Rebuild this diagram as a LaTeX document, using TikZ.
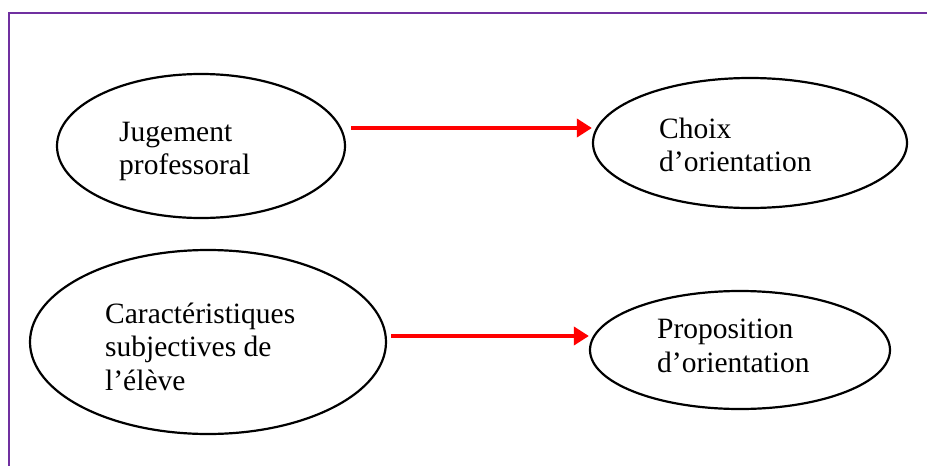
\documentclass[tikz,border=0pt]{standalone}
\usepackage{fontspec}
\setmainfont{Liberation Serif}
\usepackage {tikz}
\usetikzlibrary {positioning}
\usetikzlibrary{arrows.meta,shapes.geometric}
\definecolor {cadre}{RGB}{112,48,160}

\begin{document}
\begin{tikzpicture}[x=1pt,y=-1pt,
bulle/.style ={ ellipse ,draw=black ,line width=2.2pt ,inner sep=0pt},
etiq/.style ={ anchor=north west ,inner sep=0pt ,align=left ,
font=\fontsize{29.5}{33.5}\selectfont},
fleche/.style ={ draw=red ,line width=3.6pt ,-{Triangle[length=15pt,width=18pt]}}]

\useasboundingbox (0,0) rectangle (927,466);
\draw[cadre,line width=2.4pt] (9,13) rectangle (960,500);

\node[bulle,minimum width=288,minimum height=144] (jug) at (201,146) {};
\node[bulle,minimum width=314,minimum height=130] (cho) at (750,143) {};

\node[bulle,minimum width=356,minimum height=184] (car) at (208,342) {};
\node[bulle,minimum width=300,minimum height=118] (pro) at (740,350) {};

\node[etiq] (jugtxt) at (119,121.5) {Jugement\\professoral};
\node[etiq] (chotxt) at (659,117.5) {Choix\\d’orientation};
\node[etiq] (cartxt) at (105,302.5) {Caractéristiques\\subjectives de\\l’élève};
\node[etiq] (protxt) at (657,319) {Proposition\\d’orientation};

\coordinate (a1) at ([shift={(5,-18)}]jug.east);
\coordinate (a2) at ([shift={(4,-6)}]car.east);

\draw[fleche] (a1) -- (a1 -| cho.west);
\draw[fleche] (a2) -- (a2 -| pro.west);

\end{tikzpicture}
\end{document}
